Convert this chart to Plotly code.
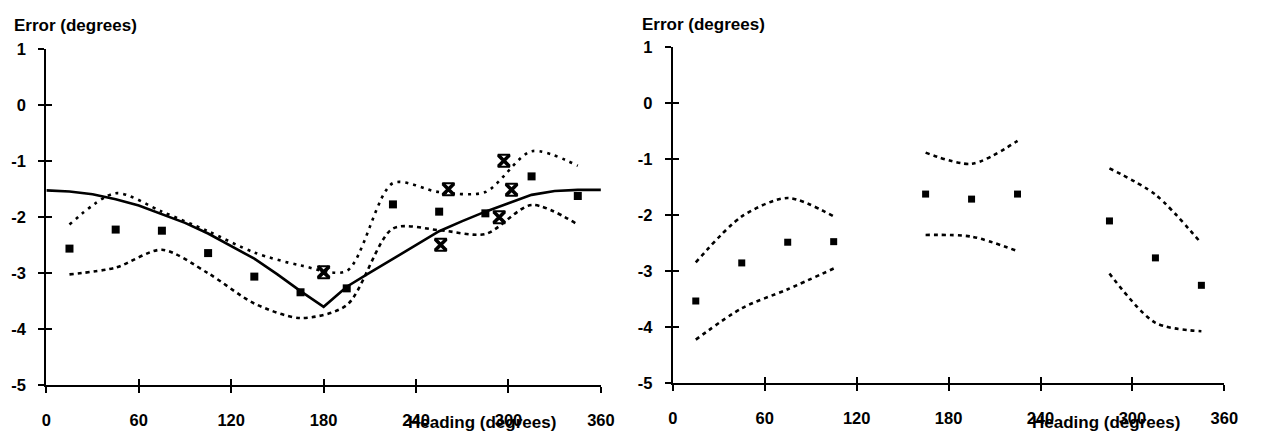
import plotly.graph_objects as go

W, H = 1263, 447

# ---------------- data ----------------
headings_pts = [15, 45, 75, 105, 135, 165, 195, 225, 255, 285, 315, 345]

# left panel
solid_x = [0, 15, 30, 45, 60, 75, 90, 105, 120, 135, 150, 165, 180,
           195, 210, 225, 240, 255, 270, 285, 300, 315, 330, 345, 360]
solid_y = [-1.52, -1.54, -1.59, -1.68, -1.79, -1.94, -2.10, -2.29, -2.52, -2.74, -3.02, -3.32, -3.60,
           -3.24, -2.99, -2.74, -2.49, -2.25, -2.07, -1.90, -1.75, -1.60, -1.53, -1.51, -1.51]
left_pts = [-2.56, -2.22, -2.24, -2.64, -3.06, -3.34, -3.27, -1.77, -1.90, -1.93, -1.27, -1.62]
left_upper = [-2.13, -1.57, -1.90, -2.25, -2.63, -2.86, -2.96, -1.39, -1.55, -1.55, -0.82, -1.08]
left_lower = [-3.02, -2.90, -2.58, -3.00, -3.54, -3.80, -3.57, -2.20, -2.23, -2.30, -1.78, -2.13]
star_x = [180, 256, 261, 294, 297, 302]
star_y = [-2.98, -2.49, -1.50, -2.00, -0.99, -1.51]

# right panel (three groups of headings)
right_groups = [[15, 45, 75, 105], [165, 195, 225], [285, 315, 345]]
right_pts = [[-3.53, -2.85, -2.48, -2.47], [-1.62, -1.71, -1.62], [-2.10, -2.76, -3.25]]
right_upper = [[-2.84, -2.02, -1.69, -2.02], [-0.88, -1.08, -0.67], [-1.16, -1.63, -2.50]]
right_lower = [[-4.22, -3.66, -3.32, -2.95], [-2.35, -2.38, -2.64], [-3.04, -3.92, -4.07]]

x_ticks = [0, 60, 120, 180, 240, 300, 360]
x_ticktext = ["0", "60", "120", "180", "240", "300", "360"]
y_ticks = [-5, -4, -3, -2, -1, 0, 1]
y_ticktext = ["-5", "-4", "-3", "-2", "-1", "0", "1"]
y_title = "Error (degrees)"
x_title = "Heading (degrees)"

FONT = "Liberation Sans, Arial, sans-serif"
BLACK = "#000000"

fig = go.Figure()

dash_style = dict(color=BLACK, width=2.6, dash="4px,4px", shape="spline", smoothing=0.8)

# left panel traces
fig.add_trace(go.Scatter(x=solid_x, y=solid_y, mode="lines",
                         line=dict(color=BLACK, width=2.6), xaxis="x", yaxis="y"))
fig.add_trace(go.Scatter(x=headings_pts, y=left_upper, mode="lines",
                         line=dict(color=BLACK, width=2.6, dash="3px,5px", shape="spline", smoothing=0.8),
                         xaxis="x", yaxis="y"))
fig.add_trace(go.Scatter(x=headings_pts, y=left_lower, mode="lines", line=dash_style, xaxis="x", yaxis="y"))
fig.add_trace(go.Scatter(x=headings_pts, y=left_pts, mode="markers",
                         marker=dict(symbol="square", size=8, color=BLACK), xaxis="x", yaxis="y"))
fig.add_trace(go.Scatter(x=star_x, y=star_y, mode="markers",
                         marker=dict(symbol="x-thin-open", size=11, color=BLACK,
                                     line=dict(color=BLACK, width=3.6)), xaxis="x", yaxis="y"))
fig.add_trace(go.Scatter(x=star_x, y=star_y, mode="markers",
                         marker=dict(symbol="hourglass-open", size=12, color=BLACK,
                                     line=dict(color=BLACK, width=2)), xaxis="x", yaxis="y"))

# right panel traces
for gx, gp, gu, gl in zip(right_groups, right_pts, right_upper, right_lower):
    fig.add_trace(go.Scatter(x=gx, y=gu, mode="lines", line=dash_style, xaxis="x2", yaxis="y2"))
    fig.add_trace(go.Scatter(x=gx, y=gl, mode="lines", line=dash_style, xaxis="x2", yaxis="y2"))
    fig.add_trace(go.Scatter(x=gx, y=gp, mode="markers",
                             marker=dict(symbol="square", size=7, color=BLACK), xaxis="x2", yaxis="y2"))

# dummy traces to activate overlay axes (inside ticks -> crossing ticks)
for xa, ya in [("x3", "y"), ("x", "y3"), ("x4", "y2"), ("x2", "y4")]:
    fig.add_trace(go.Scatter(x=[], y=[], xaxis=xa, yaxis=ya, hoverinfo="skip"))

def px_x(p):
    return p / W

def px_y(p):
    return 1 - p / H

tickfont = dict(family=FONT, size=16.5, color=BLACK, weight="bold")
titlefont = dict(family=FONT, size=17, color=BLACK, weight="bold")
common_x = dict(range=[0, 360], tickvals=x_ticks, ticktext=x_ticktext, showgrid=False, zeroline=False,
                showline=True, linecolor=BLACK, linewidth=2.2, ticks="outside", ticklen=6,
                tickwidth=2, tickcolor=BLACK, tickfont=tickfont, ticklabelstandoff=13,
                fixedrange=True)
common_y = dict(range=[-5, 1], tickvals=y_ticks, ticktext=y_ticktext, showgrid=False, zeroline=False,
                showline=True, linecolor=BLACK, linewidth=2.2, ticks="outside", ticklen=6,
                tickwidth=2, tickcolor=BLACK, tickfont=tickfont, ticklabelstandoff=9,
                fixedrange=True)
overlay_x = dict(range=[0, 360], tickvals=x_ticks, showgrid=False, zeroline=False, showline=False,
                 ticks="inside", ticklen=6, tickwidth=2, tickcolor=BLACK, showticklabels=False)
overlay_y = dict(range=[-5, 1], tickvals=y_ticks, showgrid=False, zeroline=False, showline=False,
                 ticks="inside", ticklen=6, tickwidth=2, tickcolor=BLACK, showticklabels=False)

fig.update_layout(
    width=W, height=H, autosize=False,
    margin=dict(l=0, r=0, t=0, b=0),
    paper_bgcolor="white", plot_bgcolor="rgba(0,0,0,0)",
    showlegend=False,
    xaxis=dict(domain=[px_x(42), px_x(605)], anchor="y", **common_x),
    yaxis=dict(domain=[px_y(392), px_y(42)], anchor="x", **common_y),
    xaxis2=dict(domain=[px_x(678), px_x(1238)], anchor="y2", **common_x),
    yaxis2=dict(domain=[px_y(390), px_y(40)], anchor="x2", **common_y),
    xaxis3=dict(overlaying="x", anchor="y", **overlay_x),
    yaxis3=dict(overlaying="y", anchor="x", **overlay_y),
    xaxis4=dict(overlaying="x2", anchor="y2", **overlay_x),
    yaxis4=dict(overlaying="y2", anchor="x2", **overlay_y),
    annotations=[
        dict(text=y_title, x=px_x(7), y=px_y(5), xref="paper", yref="paper",
             xanchor="left", yanchor="top", showarrow=False, font=titlefont),
        dict(text=y_title, x=px_x(645), y=px_y(4), xref="paper", yref="paper",
             xanchor="left", yanchor="top", showarrow=False, font=titlefont),
        dict(text=x_title, x=px_x(484), y=px_y(419), xref="paper", yref="paper",
             xanchor="center", yanchor="top", showarrow=False, font=titlefont),
        dict(text=x_title, x=px_x(1118), y=px_y(419), xref="paper", yref="paper",
             xanchor="center", yanchor="top", showarrow=False, font=titlefont),
    ],
)
for tr in fig.data:
    tr.cliponaxis = False

fig.write_html(
    "out.html",
    config={"responsive": False, "displayModeBar": False},
    post_script="document.documentElement.style.margin='0';document.body.style.margin='0';"
                "document.body.style.overflow='hidden';",
)
